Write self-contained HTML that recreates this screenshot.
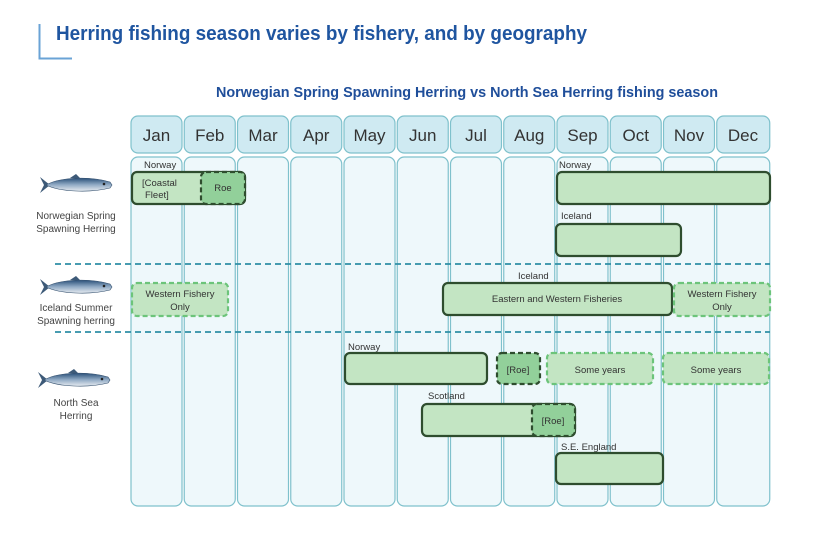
<!DOCTYPE html>
<html><head><meta charset="utf-8"><style>
html,body{margin:0;padding:0;background:#fff;}
svg{display:block;font-family:"Liberation Sans",sans-serif;}
</style></head><body>
<svg width="830" height="533" viewBox="0 0 830 533" xmlns="http://www.w3.org/2000/svg">
<defs>
<linearGradient id="fish" x1="0" y1="0" x2="0" y2="1">
<stop offset="0" stop-color="#2a4f78"/><stop offset="0.5" stop-color="#8fa9c4"/><stop offset="1" stop-color="#e6ebf0"/>
</linearGradient>
<g id="f">
<path d="M0,-8 L10,0 L0,8 L4,0 Z" fill="#3d5a78"/>
<path d="M6,0 C20,-8 50,-9 70,-3 L72,0 L70,3 C50,8 20,7 6,0 Z" fill="url(#fish)" stroke="#34506e" stroke-width="0.6"/>
<path d="M30,-7 L36,-11 L40,-7 Z" fill="#3d5a78"/>
<circle cx="64" cy="-1" r="1.3" fill="#222"/>
</g>
</defs>
<rect width="830" height="533" fill="#fff"/>
<path d="M39.5,24 V58.5 H72" fill="none" stroke="#6aa3d6" stroke-width="2"/>
<text x="56" y="40" font-size="20" font-weight="bold" fill="#1f55a0" textLength="531" lengthAdjust="spacingAndGlyphs">Herring fishing season varies by fishery, and by geography</text>
<text x="216" y="97" font-size="15" font-weight="bold" fill="#1f4e9a" textLength="502" lengthAdjust="spacingAndGlyphs">Norwegian Spring Spawning Herring vs North Sea Herring fishing season</text>
<g id="cols"></g>
<!-- columns -->
<g stroke="#7fc1cc" stroke-width="1.2">
<rect x="131" y="116" width="51" height="37" rx="7" fill="#cfeaf2"/>
<rect x="184.25" y="116" width="51" height="37" rx="7" fill="#cfeaf2"/>
<rect x="237.5" y="116" width="51" height="37" rx="7" fill="#cfeaf2"/>
<rect x="290.75" y="116" width="51" height="37" rx="7" fill="#cfeaf2"/>
<rect x="344" y="116" width="51" height="37" rx="7" fill="#cfeaf2"/>
<rect x="397.25" y="116" width="51" height="37" rx="7" fill="#cfeaf2"/>
<rect x="450.5" y="116" width="51" height="37" rx="7" fill="#cfeaf2"/>
<rect x="503.75" y="116" width="51" height="37" rx="7" fill="#cfeaf2"/>
<rect x="557" y="116" width="51" height="37" rx="7" fill="#cfeaf2"/>
<rect x="610.25" y="116" width="51" height="37" rx="7" fill="#cfeaf2"/>
<rect x="663.5" y="116" width="51" height="37" rx="7" fill="#cfeaf2"/>
<rect x="716.75" y="116" width="53" height="37" rx="7" fill="#cfeaf2"/>
<rect x="131" y="157" width="51" height="349" rx="7" fill="#eef8fb"/>
<rect x="184.25" y="157" width="51" height="349" rx="7" fill="#eef8fb"/>
<rect x="237.5" y="157" width="51" height="349" rx="7" fill="#eef8fb"/>
<rect x="290.75" y="157" width="51" height="349" rx="7" fill="#eef8fb"/>
<rect x="344" y="157" width="51" height="349" rx="7" fill="#eef8fb"/>
<rect x="397.25" y="157" width="51" height="349" rx="7" fill="#eef8fb"/>
<rect x="450.5" y="157" width="51" height="349" rx="7" fill="#eef8fb"/>
<rect x="503.75" y="157" width="51" height="349" rx="7" fill="#eef8fb"/>
<rect x="557" y="157" width="51" height="349" rx="7" fill="#eef8fb"/>
<rect x="610.25" y="157" width="51" height="349" rx="7" fill="#eef8fb"/>
<rect x="663.5" y="157" width="51" height="349" rx="7" fill="#eef8fb"/>
<rect x="716.75" y="157" width="53" height="349" rx="7" fill="#eef8fb"/>
</g>
<g font-size="17" fill="#333" text-anchor="middle">
<text x="156.5" y="141">Jan</text><text x="209.75" y="141">Feb</text><text x="263" y="141">Mar</text>
<text x="316.25" y="141">Apr</text><text x="369.5" y="141">May</text><text x="422.75" y="141">Jun</text>
<text x="476" y="141">Jul</text><text x="529.25" y="141">Aug</text><text x="582.5" y="141">Sep</text>
<text x="635.75" y="141">Oct</text><text x="689" y="141">Nov</text><text x="743" y="141">Dec</text>
</g>
<g stroke="#2e8fa6" stroke-width="1.8" stroke-dasharray="6,4">
<line x1="55" y1="264" x2="770" y2="264"/><line x1="55" y1="332" x2="770" y2="332"/>
</g>
<!-- bars -->
<g stroke-width="2.2">
<rect x="132" y="172" width="113" height="32" rx="5" fill="#c3e5c3" stroke="#2e4d2e"/>
<rect x="201" y="172" width="44" height="32" rx="5" fill="#92d09a" stroke="#2e4d2e" stroke-dasharray="5,3"/>
<rect x="557" y="172" width="213" height="32" rx="5" fill="#c3e5c3" stroke="#2e4d2e"/>
<rect x="556" y="224" width="125" height="32" rx="5" fill="#c3e5c3" stroke="#2e4d2e"/>
<rect x="132" y="283" width="96" height="33" rx="5" fill="#c3e5c3" stroke="#6cc47a" stroke-dasharray="5,3"/>
<rect x="443" y="283" width="229" height="32" rx="5" fill="#c3e5c3" stroke="#2e4d2e"/>
<rect x="674" y="283" width="96" height="33" rx="5" fill="#c3e5c3" stroke="#6cc47a" stroke-dasharray="5,3"/>
<rect x="345" y="353" width="142" height="31" rx="5" fill="#c3e5c3" stroke="#2e4d2e"/>
<rect x="497" y="353" width="43" height="31" rx="5" fill="#92d09a" stroke="#2e4d2e" stroke-dasharray="5,3"/>
<rect x="547" y="353" width="106" height="31" rx="5" fill="#c3e5c3" stroke="#6cc47a" stroke-dasharray="5,3"/>
<rect x="663" y="353" width="106" height="31" rx="5" fill="#c3e5c3" stroke="#6cc47a" stroke-dasharray="5,3"/>
<rect x="422" y="404" width="153" height="32" rx="5" fill="#c3e5c3" stroke="#2e4d2e"/>
<rect x="532" y="404" width="43" height="32" rx="5" fill="#92d09a" stroke="#2e4d2e" stroke-dasharray="5,3"/>
<rect x="556" y="453" width="107" height="31" rx="5" fill="#c3e5c3" stroke="#2e4d2e"/>
</g>
<g font-size="9.5" fill="#333">
<text x="144" y="168">Norway</text>
<text x="142" y="186">[Coastal</text><text x="145" y="198">Fleet]</text>
<text x="223" y="191" text-anchor="middle">Roe</text>
<text x="559" y="168">Norway</text>
<text x="561" y="219">Iceland</text>
<text x="518" y="279">Iceland</text>
<text x="180" y="297" text-anchor="middle">Western Fishery</text><text x="180" y="310" text-anchor="middle">Only</text>
<text x="557" y="302" text-anchor="middle">Eastern and Western Fisheries</text>
<text x="722" y="297" text-anchor="middle">Western Fishery</text><text x="722" y="310" text-anchor="middle">Only</text>
<text x="348" y="350">Norway</text>
<text x="518" y="373" text-anchor="middle">[Roe]</text>
<text x="600" y="373" text-anchor="middle">Some years</text>
<text x="716" y="373" text-anchor="middle">Some years</text>
<text x="428" y="399">Scotland</text>
<text x="553" y="424" text-anchor="middle">[Roe]</text>
<text x="561" y="450">S.E. England</text>
</g>
<g font-size="10" fill="#444" text-anchor="middle">
<text x="76" y="219">Norwegian Spring</text><text x="76" y="232">Spawning Herring</text>
<text x="76" y="311">Iceland Summer</text><text x="76" y="324">Spawning herring</text>
<text x="76" y="406">North Sea</text><text x="76" y="419">Herring</text>
</g>
<use href="#f" x="40" y="185"/>
<use href="#f" x="40" y="287"/>
<use href="#f" x="38" y="380"/>
</svg>
</body></html>
